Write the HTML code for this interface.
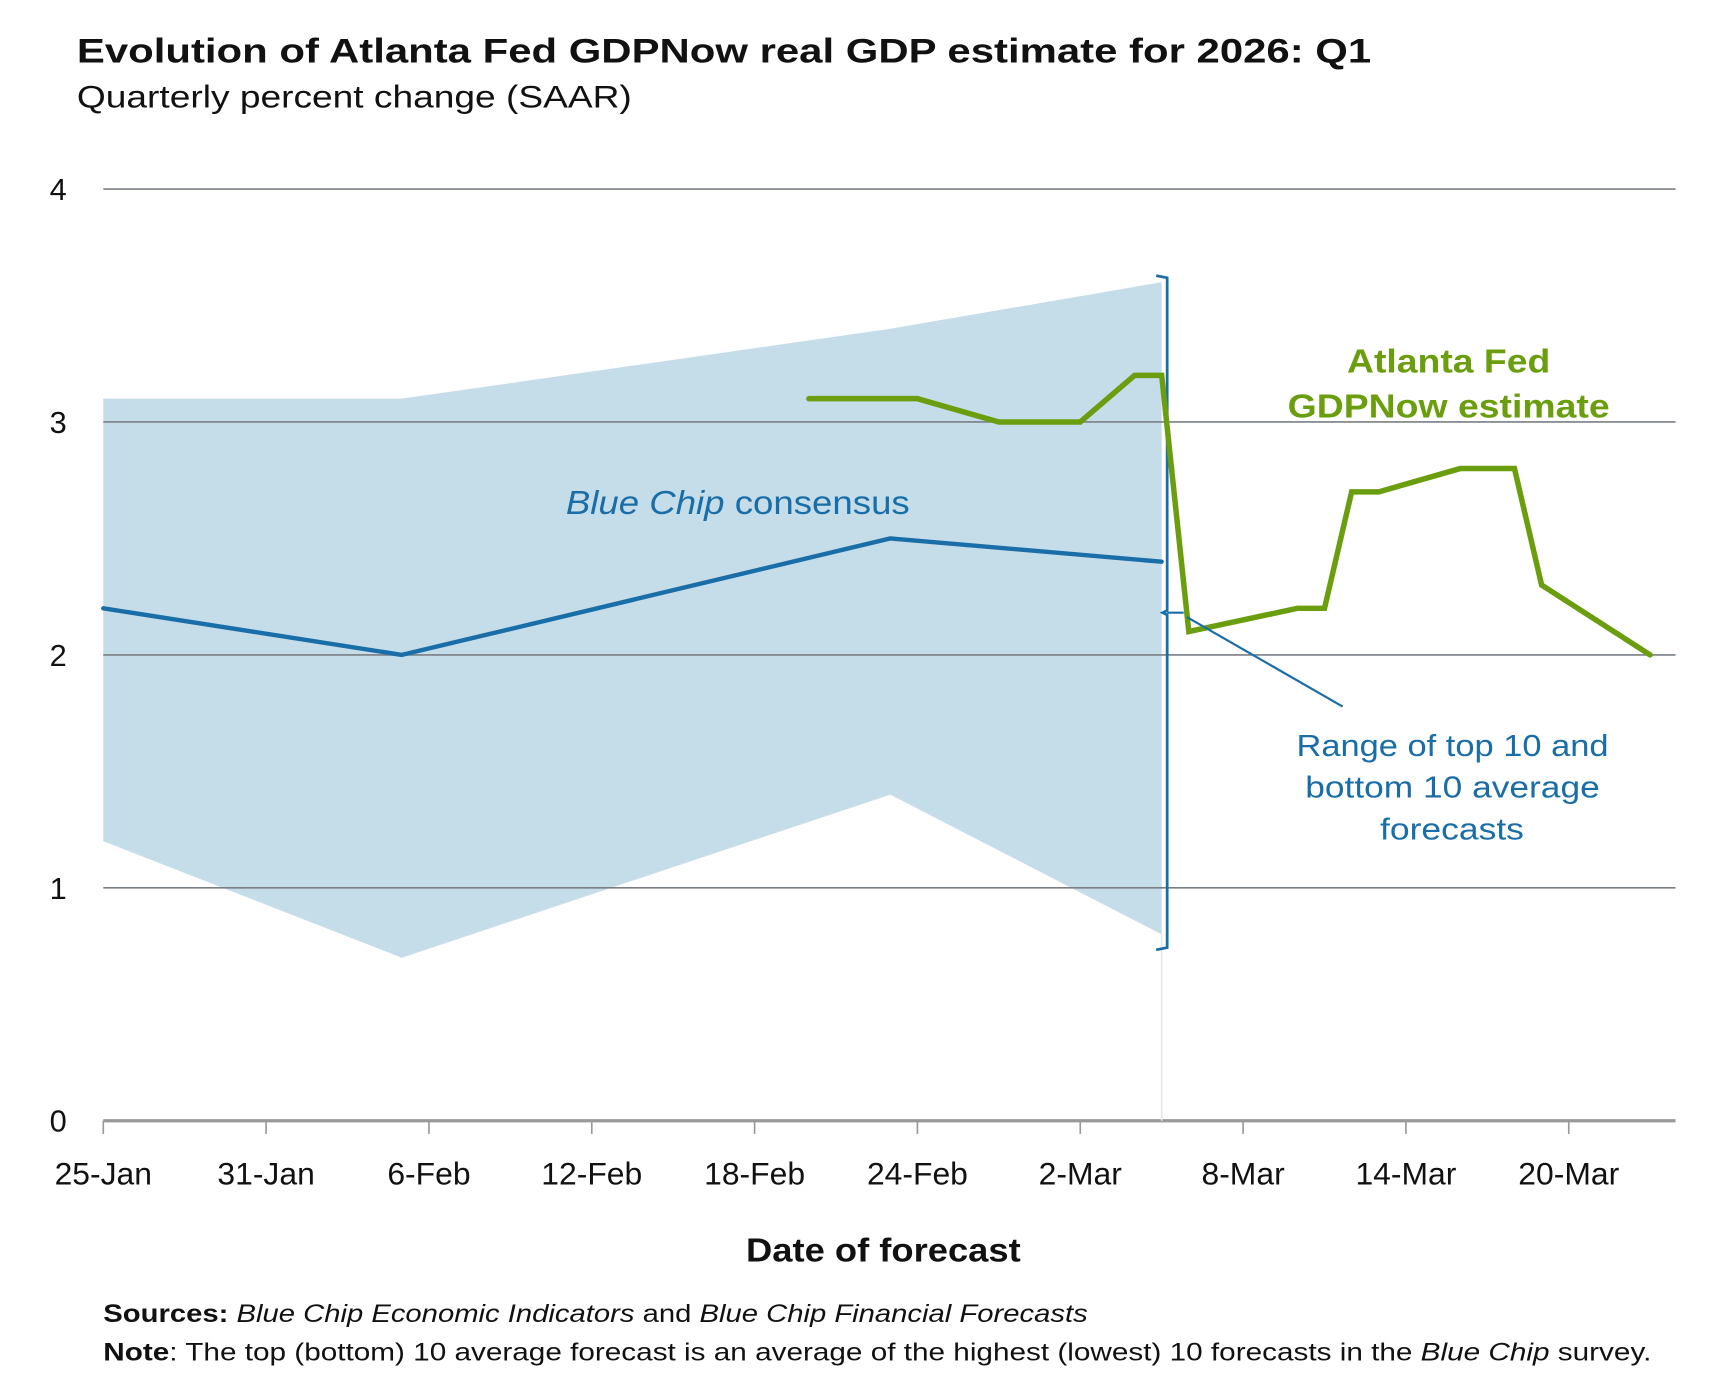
<!DOCTYPE html>
<html><head><meta charset="utf-8"><style>
html,body{margin:0;padding:0;background:#fff;}
svg{display:block;font-family:"Liberation Sans",sans-serif;}
</style></head><body>
<svg id="chart" width="1714" height="1390" viewBox="0 0 1560 1265" xmlns="http://www.w3.org/2000/svg">
<text x="70" y="57" font-size="31" font-weight="bold" fill="#111" textLength="1178" lengthAdjust="spacingAndGlyphs">Evolution of Atlanta Fed GDPNow real GDP estimate for 2026: Q1</text>
<text x="70" y="98" font-size="29" fill="#111" textLength="505" lengthAdjust="spacingAndGlyphs">Quarterly percent change (SAAR)</text>
<g id="plot"></g>
<text x="515" y="468" font-size="30" fill="#1a6ea8" textLength="313" lengthAdjust="spacingAndGlyphs"><tspan font-style="italic">Blue Chip</tspan> consensus</text>
<text x="1226" y="339" font-size="30" font-weight="bold" fill="#6b9e0f" textLength="185" lengthAdjust="spacingAndGlyphs">Atlanta Fed</text>
<text x="1172" y="380" font-size="30" font-weight="bold" fill="#6b9e0f" textLength="293" lengthAdjust="spacingAndGlyphs">GDPNow estimate</text>
<text x="1180" y="688" font-size="28" fill="#1a6ea8" textLength="284" lengthAdjust="spacingAndGlyphs">Range of top 10 and</text>
<text x="1188" y="726" font-size="28" fill="#1a6ea8" textLength="268" lengthAdjust="spacingAndGlyphs">bottom 10 average</text>
<text x="1256" y="764" font-size="28" fill="#1a6ea8" textLength="131" lengthAdjust="spacingAndGlyphs">forecasts</text>
<text x="679" y="1148" font-size="30" font-weight="bold" fill="#111" textLength="250" lengthAdjust="spacingAndGlyphs">Date of forecast</text>
<text x="94" y="1203" font-size="23" fill="#111" textLength="896" lengthAdjust="spacingAndGlyphs"><tspan font-weight="bold">Sources:</tspan> <tspan font-style="italic">Blue Chip Economic Indicators</tspan> and <tspan font-style="italic">Blue Chip Financial Forecasts</tspan></text>
<text x="94" y="1238" font-size="23" fill="#111" textLength="1409" lengthAdjust="spacingAndGlyphs"><tspan font-weight="bold">Note</tspan>: The top (bottom) 10 average forecast is an average of the highest (lowest) 10 forecasts in the <tspan font-style="italic">Blue Chip</tspan> survey.</text>
</svg>
<script>
const xTickLabels = ["25-Jan","31-Jan","6-Feb","12-Feb","18-Feb","24-Feb","2-Mar","8-Mar","14-Mar","20-Mar"];
const yTicks = [0,1,2,3,4];
const bcDays = [0,11,29,39];
const bcValues = [2.2,2.0,2.5,2.4];
const bcTop = [3.1,3.1,3.4,3.6];
const bcBottom = [1.2,0.7,1.4,0.8];
const gdpDays = [26,30,33,36,38,39,40,44,45,46,47,50,52,53,57];
const gdpValues = [3.1,3.1,3.0,3.0,3.2,3.2,2.1,2.2,2.2,2.7,2.7,2.8,2.8,2.3,2.0];

const X0=94, X1=1525, Y0=1020, PXDAY=24.7, PXUNIT=212;
const xs = d => X0 + d*PXDAY;
const ys = v => Y0 - v*PXUNIT;
const NS="http://www.w3.org/2000/svg";
const plotG=document.getElementById('plot');
function mk(tag, attrs){const e=document.createElementNS(NS,tag);for(const k in attrs)e.setAttribute(k,attrs[k]);plotG.appendChild(e);return e;}

let pts=bcDays.map((d,i)=>xs(d)+','+ys(bcTop[i]));
for(let i=bcDays.length-1;i>=0;i--)pts.push(xs(bcDays[i])+','+ys(bcBottom[i]));
const area=mk('polygon',{points:pts.join(' '),fill:'#c5dce9'});



yTicks.forEach(v=>{
  const g=mk('line',{x1:X0,x2:X1,y1:ys(v),y2:ys(v),stroke:v===0?'#999':'#7a7f84','stroke-width':v===0?3:1.5});
  
  
  const t=mk('text',{x:53,y:ys(v)+10,'font-size':28,'text-anchor':'middle',fill:'#111'});
  t.textContent=v;
  
  
});
const vl=mk('line',{x1:xs(39),x2:xs(39),y1:ys(0.8),y2:Y0,stroke:'#e3e8ec','stroke-width':1.5});



xTickLabels.forEach((lab,i)=>{
  const x=xs(i*6);
  const l=mk('line',{x1:x,x2:x,y1:Y0,y2:Y0+12,stroke:'#999','stroke-width':1.5});
  
  
  const t=mk('text',{x:x,y:1078,'font-size':29,'text-anchor':'middle',fill:'#111'});
  t.textContent=lab;
  
  
});

const bl=mk('polyline',{points:bcDays.map((d,i)=>xs(d)+','+ys(bcValues[i])).join(' '),fill:'none',stroke:'#1a6ea8','stroke-width':4,'stroke-linecap':'round','stroke-linejoin':'round'});



const bx=xs(39)+5, bTop=ys(bcTop[3])-6, bBot=ys(bcBottom[3])+14, bMid=(bTop+bBot)/2;
const br=mk('path',{d:`M${bx-10},${bTop} L${bx},${bTop+2} L${bx},${bMid-2} L${bx-4},${bMid} L${bx},${bMid+2} L${bx},${bBot-2} L${bx-10},${bBot}`,fill:'none',stroke:'#1a6ea8','stroke-width':2.5});


const tk=mk('line',{x1:bx,x2:bx+15,y1:bMid,y2:bMid,stroke:'#1a6ea8','stroke-width':2});



const gl=mk('polyline',{points:gdpDays.map((d,i)=>xs(d)+','+ys(gdpValues[i])).join(' '),fill:'none',stroke:'#6b9e0f','stroke-width':5,'stroke-linecap':'round','stroke-linejoin':'miter'});



const ll=mk('line',{x1:bx+18,y1:bMid+4,x2:1222,y2:643,stroke:'#1a6ea8','stroke-width':2});


</script>
</body></html>
